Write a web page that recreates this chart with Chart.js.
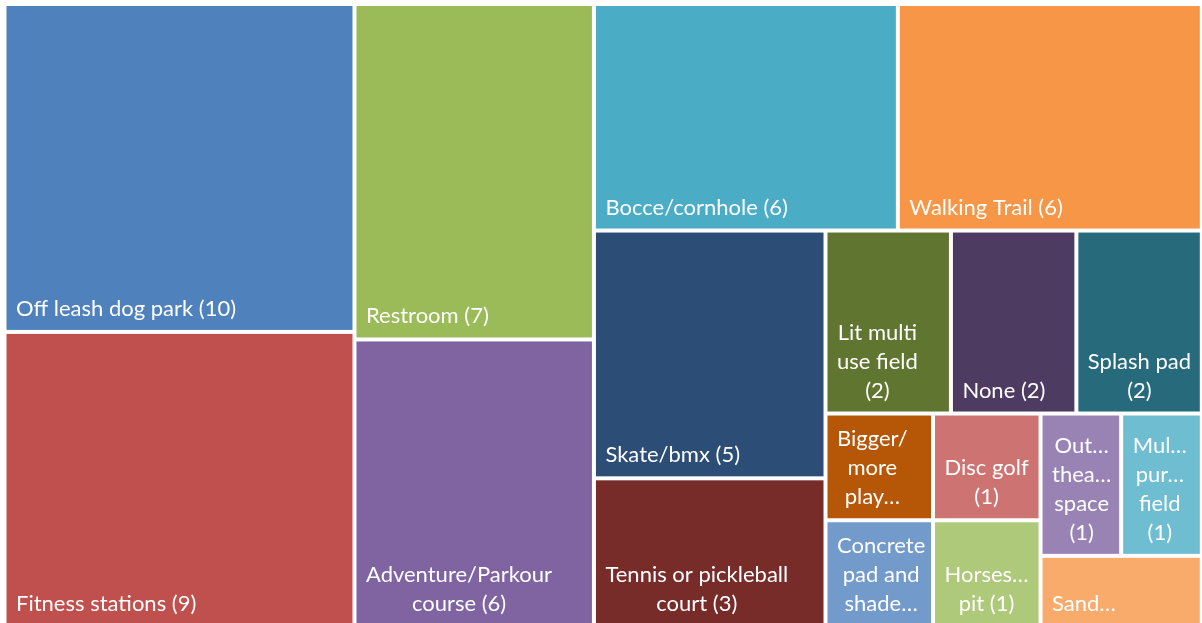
<!DOCTYPE html>
<html>
<head>
<meta charset="utf-8">
<script src="https://cdn.jsdelivr.net/npm/chart.js@4/dist/chart.umd.min.js"></script>
<style>
html,body{margin:0;padding:0;background:#ffffff;overflow:hidden}
#wrap{width:1202px;height:623px;overflow:hidden;position:relative}
canvas{display:block}
</style>
</head>
<body>
<div id="wrap"><canvas id="c" width="1202" height="628"></canvas></div>
<script>
// ---- data ----
const categories = [
  "Off leash dog park", "Fitness stations", "Restroom", "Adventure/Parkour course",
  "Bocce/cornhole", "Walking Trail", "Skate/bmx", "Tennis or pickleball court",
  "Lit multi use field", "None", "Splash pad", "Bigger/more play equipment",
  "Concrete pad and shade structure", "Disc golf", "Horseshoe pit",
  "Outdoor theater space", "Multiple purpose field", "Sand volleyball"
];
const counts = [10, 9, 7, 6, 6, 6, 5, 3, 2, 2, 2, 1, 1, 1, 1, 1, 1, 1];
const colors = [
  "#4F81BD", "#C0504D", "#9BBB59", "#8064A2", "#4BACC6", "#F79646",
  "#2C4D75", "#772C2A", "#5F7530", "#4D3B62", "#276A7C", "#B65708",
  "#729ACA", "#CD7371", "#AFC97A", "#9983B5", "#6FBDD1", "#F9AB6B"
];

// extent of the plot in value units (matches the plot area's aspect)
const AREA_W = 1197.3, AREA_H = 623;

// squarified treemap layout, computed in value space
function squarify(values, x, y, w, h) {
  const total = values.reduce((a, b) => a + b, 0);
  const k = (w * h) / total;
  const areas = values.map(v => v * k);
  const rects = [];
  let i = 0;
  while (i < areas.length) {
    const side = Math.min(w, h);
    const worst = r => {
      const s = r.reduce((a, b) => a + b, 0);
      const mx = Math.max(...r), mn = Math.min(...r);
      return Math.max(side * side * mx / (s * s), (s * s) / (side * side * mn));
    };
    let row = [areas[i]], j = i + 1;
    while (j < areas.length && worst(row.concat([areas[j]])) <= worst(row)) { row.push(areas[j]); j++; }
    const s = row.reduce((a, b) => a + b, 0);
    if (w >= h) {
      const cw = s / h; let cy = y;
      row.forEach(a => { const ch = a / cw; rects.push({ x: x, y: cy, w: cw, h: ch }); cy += ch; });
      x += cw; w -= cw;
    } else {
      const rh = s / w; let cx = x;
      row.forEach(a => { const rw = a / rh; rects.push({ x: cx, y: y, w: rw, h: rh }); cx += rw; });
      y += rh; h -= rh;
    }
    i = j;
  }
  return rects;
}
const cells = squarify(counts, 0, 0, AREA_W, AREA_H);

// ---- label wrapping ----
const FONT = '22px Lato';
const LINE_H = 29;
const ELL = '\u2026';
function tokenize(s) {
  const out = []; let cur = '';
  for (const ch of s) {
    if (ch === ' ') { if (cur) out.push({ t: cur, sp: true }); cur = ''; }
    else { cur += ch; if (ch === '/') { out.push({ t: cur, sp: false }); cur = ''; } }
  }
  if (cur) out.push({ t: cur, sp: true });
  return out;
}
function fitWord(ctx, w, maxW, truncW) {
  if (ctx.measureText(w).width <= maxW) return w;
  let k = w.length;
  while (k > 1 && ctx.measureText(w.slice(0, k) + ELL).width > truncW) k--;
  return w.slice(0, k) + ELL;
}
function wrap(ctx, text, maxW, truncW, maxLines) {
  const toks = tokenize(text);
  const lines = []; let line = ''; let prevSp = false;
  for (const tk of toks) {
    if (!line) { line = fitWord(ctx, tk.t, maxW, truncW); }
    else {
      const cand = line + (prevSp ? ' ' : '') + tk.t;
      if (line.endsWith(ELL) || ctx.measureText(cand).width > maxW) {
        lines.push(line); line = fitWord(ctx, tk.t, maxW, truncW);
      } else line = cand;
    }
    prevSp = tk.sp;
  }
  if (line) lines.push(line);
  if (lines.length > maxLines) {
    const keep = lines.slice(0, maxLines);
    let last = keep[maxLines - 1];
    if (!last.endsWith(ELL)) {
      while (ctx.measureText(last + ELL).width > maxW && last.lastIndexOf(' ') > 0) {
        last = last.slice(0, last.lastIndexOf(' '));
      }
      keep[maxLines - 1] = last + ELL;
    }
    return keep;
  }
  return lines;
}

const treemapCells = {
  id: 'treemapCells',
  afterDatasetsDraw(chart) {
    const { ctx } = chart;
    const xs = chart.scales.x, ys = chart.scales.y;
    const gap = 2, pad = 9.5;
    ctx.save();
    cells.forEach((r, i) => {
      const x0 = xs.getPixelForValue(r.x), x1 = xs.getPixelForValue(r.x + r.w);
      const y0 = ys.getPixelForValue(r.y), y1 = ys.getPixelForValue(r.y + r.h);
      const L = x0 + gap, T = y0 + gap, W = x1 - x0 - 2 * gap, H = y1 - y0 - 2 * gap;
      ctx.fillStyle = colors[i];
      ctx.fillRect(L, T, W, H);
      ctx.font = FONT;
      const maxW = W - 14, truncW = W - 16;
      const maxLines = Math.max(1, Math.floor((H - 14) / LINE_H));
      const lines = wrap(ctx, categories[i] + ' (' + counts[i] + ')', maxW, truncW, maxLines);
      const blockW = Math.max(...lines.map(l => ctx.measureText(l).width));
      const cx = L + pad + blockW / 2;
      const baseBottom = T + H - 14;
      ctx.fillStyle = '#ffffff';
      ctx.textAlign = 'center';
      ctx.textBaseline = 'alphabetic';
      lines.forEach((ln, k) => ctx.fillText(ln, cx, baseBottom - (lines.length - 1 - k) * LINE_H));
    });
    ctx.restore();
  }
};

function build() {
  new Chart(document.getElementById('c'), {
    type: 'scatter',
    data: { datasets: [{ label: 'Cells', data: cells.map(r => ({ x: r.x + r.w / 2, y: r.y + r.h / 2 })), pointRadius: 0, pointHoverRadius: 0 }] },
    options: {
      responsive: false, animation: false, events: [],
      layout: { padding: { left: 4.5, top: 4, right: 0.2, bottom: 1 } },
      scales: {
        x: { type: 'linear', min: 0, max: AREA_W, display: false },
        y: { type: 'linear', min: 0, max: AREA_H, reverse: true, display: false }
      },
      plugins: { legend: { display: false }, tooltip: { enabled: false } }
    },
    plugins: [treemapCells]
  });
}
if (document.fonts && document.fonts.load) document.fonts.load(FONT).then(build, build); else build();
</script>
</body>
</html>
